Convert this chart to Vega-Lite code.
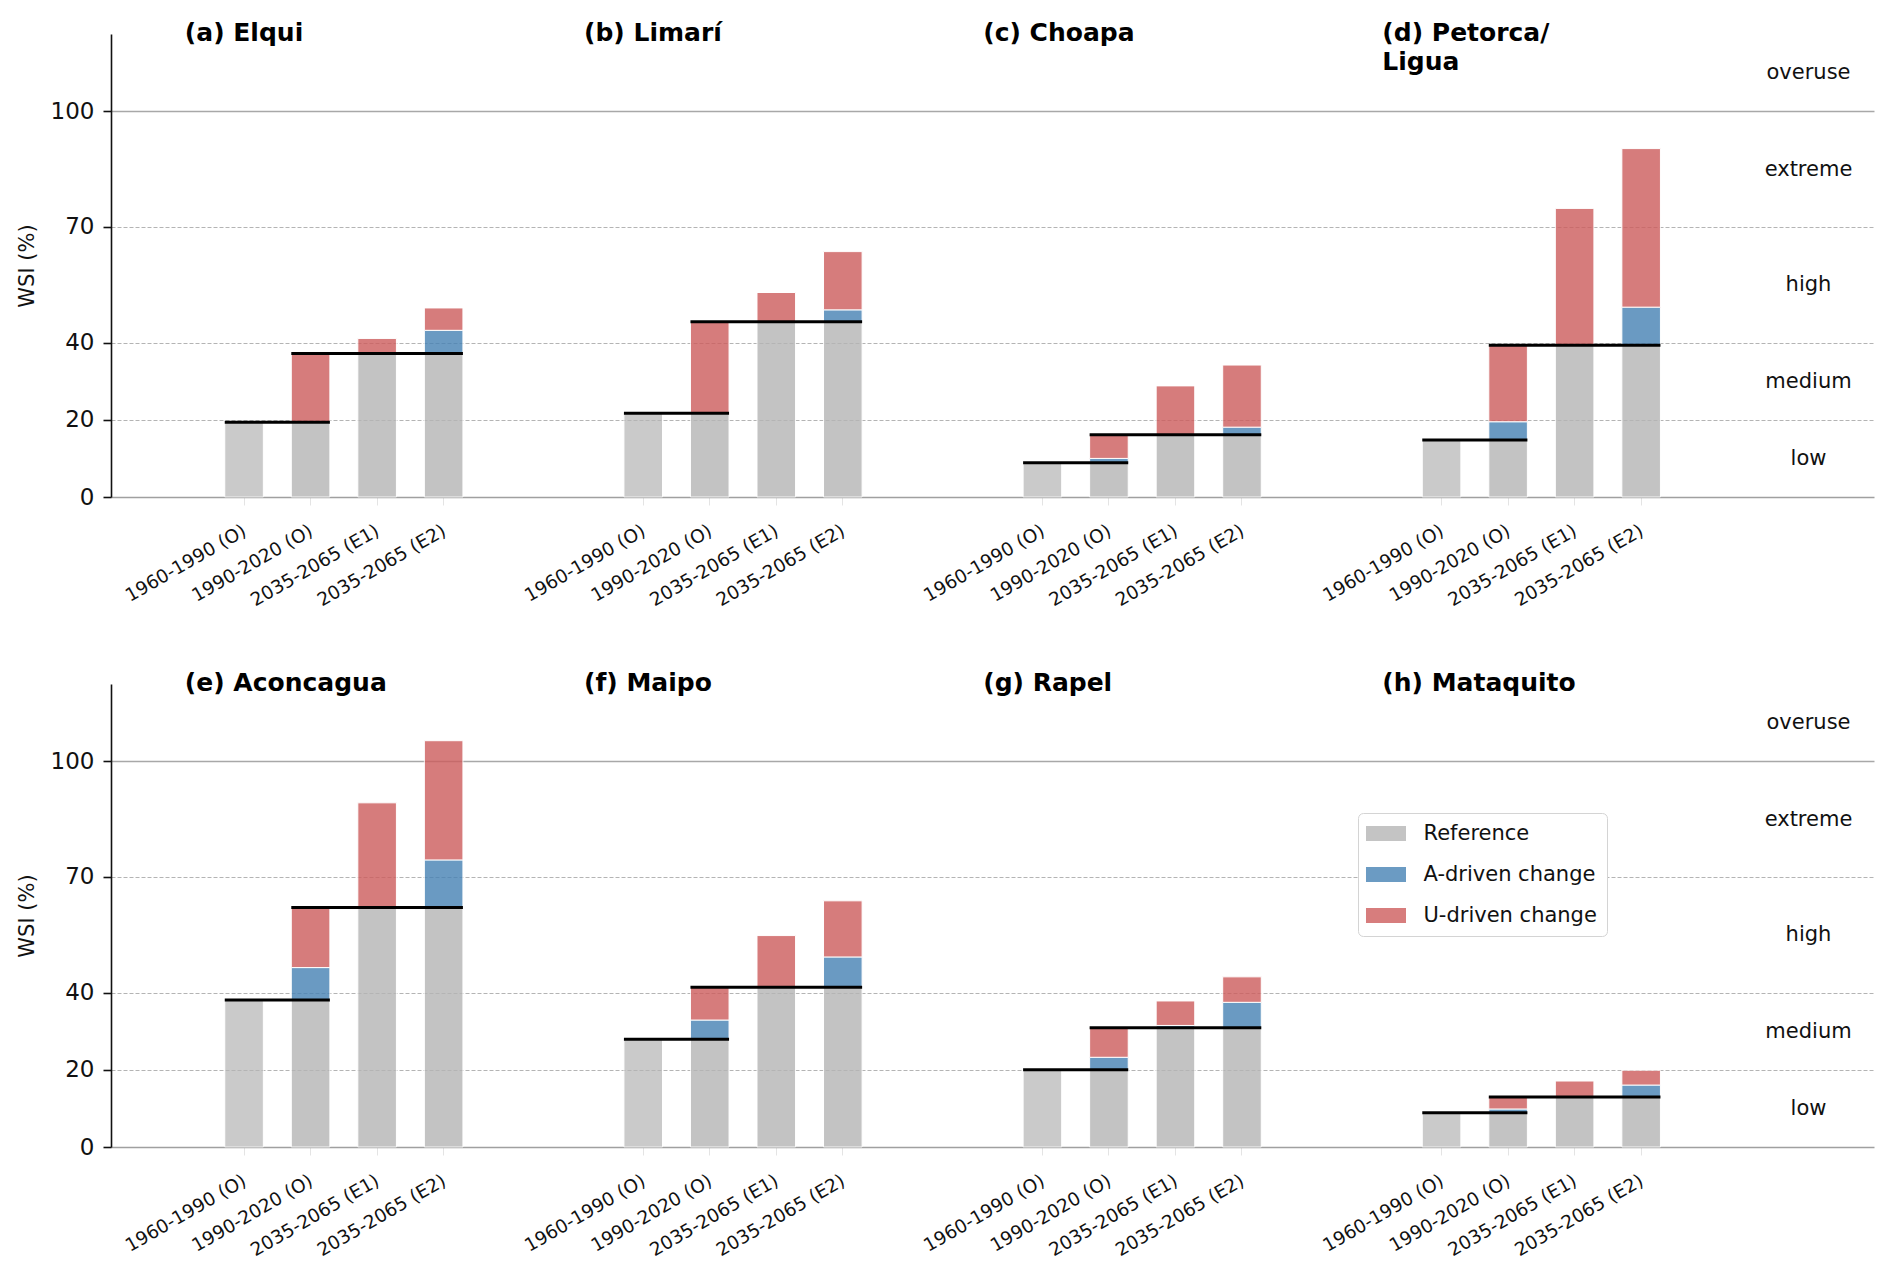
{
  "$schema": "https://vega.github.io/schema/vega-lite/v6.json",
  "background": "white",
  "padding": {"left": 16, "top": 20, "right": 5, "bottom": 5},
  "config": {"font": "DejaVu Sans", "view": {"stroke": null}},
  "datasets": {
    "bars": [
      {"basin": "Elqui", "period": "1960-1990 (O)", "component": "Reference", "value": 19.4},
      {"basin": "Elqui", "period": "1990-2020 (O)", "component": "Reference", "value": 19.4},
      {"basin": "Elqui", "period": "1990-2020 (O)", "component": "U-driven change", "value": 17.8},
      {"basin": "Elqui", "period": "2035-2065 (E1)", "component": "Reference", "value": 37.2},
      {"basin": "Elqui", "period": "2035-2065 (E1)", "component": "U-driven change", "value": 3.9},
      {"basin": "Elqui", "period": "2035-2065 (E2)", "component": "Reference", "value": 37.2},
      {"basin": "Elqui", "period": "2035-2065 (E2)", "component": "A-driven change", "value": 6.0},
      {"basin": "Elqui", "period": "2035-2065 (E2)", "component": "U-driven change", "value": 5.8},
      {"basin": "Limarí", "period": "1960-1990 (O)", "component": "Reference", "value": 21.7},
      {"basin": "Limarí", "period": "1990-2020 (O)", "component": "Reference", "value": 21.7},
      {"basin": "Limarí", "period": "1990-2020 (O)", "component": "U-driven change", "value": 23.7},
      {"basin": "Limarí", "period": "2035-2065 (E1)", "component": "Reference", "value": 45.4},
      {"basin": "Limarí", "period": "2035-2065 (E1)", "component": "U-driven change", "value": 7.6},
      {"basin": "Limarí", "period": "2035-2065 (E2)", "component": "Reference", "value": 45.4},
      {"basin": "Limarí", "period": "2035-2065 (E2)", "component": "A-driven change", "value": 3.1},
      {"basin": "Limarí", "period": "2035-2065 (E2)", "component": "U-driven change", "value": 15.1},
      {"basin": "Choapa", "period": "1960-1990 (O)", "component": "Reference", "value": 8.9},
      {"basin": "Choapa", "period": "1990-2020 (O)", "component": "Reference", "value": 8.9},
      {"basin": "Choapa", "period": "1990-2020 (O)", "component": "A-driven change", "value": 1.1},
      {"basin": "Choapa", "period": "1990-2020 (O)", "component": "U-driven change", "value": 6.15},
      {"basin": "Choapa", "period": "2035-2065 (E1)", "component": "Reference", "value": 16.15},
      {"basin": "Choapa", "period": "2035-2065 (E1)", "component": "U-driven change", "value": 12.65},
      {"basin": "Choapa", "period": "2035-2065 (E2)", "component": "Reference", "value": 16.15},
      {"basin": "Choapa", "period": "2035-2065 (E2)", "component": "A-driven change", "value": 1.95},
      {"basin": "Choapa", "period": "2035-2065 (E2)", "component": "U-driven change", "value": 16.1},
      {"basin": "Petorca/Ligua", "period": "1960-1990 (O)", "component": "Reference", "value": 14.8},
      {"basin": "Petorca/Ligua", "period": "1990-2020 (O)", "component": "Reference", "value": 14.8},
      {"basin": "Petorca/Ligua", "period": "1990-2020 (O)", "component": "A-driven change", "value": 4.7},
      {"basin": "Petorca/Ligua", "period": "1990-2020 (O)", "component": "U-driven change", "value": 19.8},
      {"basin": "Petorca/Ligua", "period": "2035-2065 (E1)", "component": "Reference", "value": 39.3},
      {"basin": "Petorca/Ligua", "period": "2035-2065 (E1)", "component": "U-driven change", "value": 35.5},
      {"basin": "Petorca/Ligua", "period": "2035-2065 (E2)", "component": "Reference", "value": 39.3},
      {"basin": "Petorca/Ligua", "period": "2035-2065 (E2)", "component": "A-driven change", "value": 9.9},
      {"basin": "Petorca/Ligua", "period": "2035-2065 (E2)", "component": "U-driven change", "value": 41.1},
      {"basin": "Aconcagua", "period": "1960-1990 (O)", "component": "Reference", "value": 38.1},
      {"basin": "Aconcagua", "period": "1990-2020 (O)", "component": "Reference", "value": 38.1},
      {"basin": "Aconcagua", "period": "1990-2020 (O)", "component": "A-driven change", "value": 8.4},
      {"basin": "Aconcagua", "period": "1990-2020 (O)", "component": "U-driven change", "value": 15.55},
      {"basin": "Aconcagua", "period": "2035-2065 (E1)", "component": "Reference", "value": 62.05},
      {"basin": "Aconcagua", "period": "2035-2065 (E1)", "component": "U-driven change", "value": 27.15},
      {"basin": "Aconcagua", "period": "2035-2065 (E2)", "component": "Reference", "value": 62.05},
      {"basin": "Aconcagua", "period": "2035-2065 (E2)", "component": "A-driven change", "value": 12.35},
      {"basin": "Aconcagua", "period": "2035-2065 (E2)", "component": "U-driven change", "value": 30.9},
      {"basin": "Maipo", "period": "1960-1990 (O)", "component": "Reference", "value": 27.9},
      {"basin": "Maipo", "period": "1990-2020 (O)", "component": "Reference", "value": 27.9},
      {"basin": "Maipo", "period": "1990-2020 (O)", "component": "A-driven change", "value": 5.0},
      {"basin": "Maipo", "period": "1990-2020 (O)", "component": "U-driven change", "value": 8.5},
      {"basin": "Maipo", "period": "2035-2065 (E1)", "component": "Reference", "value": 41.4},
      {"basin": "Maipo", "period": "2035-2065 (E1)", "component": "U-driven change", "value": 13.4},
      {"basin": "Maipo", "period": "2035-2065 (E2)", "component": "Reference", "value": 41.4},
      {"basin": "Maipo", "period": "2035-2065 (E2)", "component": "A-driven change", "value": 7.85},
      {"basin": "Maipo", "period": "2035-2065 (E2)", "component": "U-driven change", "value": 14.55},
      {"basin": "Rapel", "period": "1960-1990 (O)", "component": "Reference", "value": 20.05},
      {"basin": "Rapel", "period": "1990-2020 (O)", "component": "Reference", "value": 20.05},
      {"basin": "Rapel", "period": "1990-2020 (O)", "component": "A-driven change", "value": 3.2},
      {"basin": "Rapel", "period": "1990-2020 (O)", "component": "U-driven change", "value": 7.65},
      {"basin": "Rapel", "period": "2035-2065 (E1)", "component": "Reference", "value": 30.9},
      {"basin": "Rapel", "period": "2035-2065 (E1)", "component": "A-driven change", "value": 0.6},
      {"basin": "Rapel", "period": "2035-2065 (E1)", "component": "U-driven change", "value": 6.35},
      {"basin": "Rapel", "period": "2035-2065 (E2)", "component": "Reference", "value": 30.9},
      {"basin": "Rapel", "period": "2035-2065 (E2)", "component": "A-driven change", "value": 6.6},
      {"basin": "Rapel", "period": "2035-2065 (E2)", "component": "U-driven change", "value": 6.6},
      {"basin": "Mataquito", "period": "1960-1990 (O)", "component": "Reference", "value": 8.9},
      {"basin": "Mataquito", "period": "1990-2020 (O)", "component": "Reference", "value": 8.9},
      {"basin": "Mataquito", "period": "1990-2020 (O)", "component": "A-driven change", "value": 0.95},
      {"basin": "Mataquito", "period": "1990-2020 (O)", "component": "U-driven change", "value": 3.1},
      {"basin": "Mataquito", "period": "2035-2065 (E1)", "component": "Reference", "value": 12.95},
      {"basin": "Mataquito", "period": "2035-2065 (E1)", "component": "U-driven change", "value": 4.15},
      {"basin": "Mataquito", "period": "2035-2065 (E2)", "component": "Reference", "value": 12.95},
      {"basin": "Mataquito", "period": "2035-2065 (E2)", "component": "A-driven change", "value": 3.1},
      {"basin": "Mataquito", "period": "2035-2065 (E2)", "component": "U-driven change", "value": 3.85}
    ],
    "lines": [
      {"basin": "Elqui", "from": "1960-1990 (O)", "to": "1990-2020 (O)", "value": 19.4},
      {"basin": "Elqui", "from": "1990-2020 (O)", "to": "2035-2065 (E2)", "value": 37.2},
      {"basin": "Limarí", "from": "1960-1990 (O)", "to": "1990-2020 (O)", "value": 21.7},
      {"basin": "Limarí", "from": "1990-2020 (O)", "to": "2035-2065 (E2)", "value": 45.4},
      {"basin": "Choapa", "from": "1960-1990 (O)", "to": "1990-2020 (O)", "value": 8.9},
      {"basin": "Choapa", "from": "1990-2020 (O)", "to": "2035-2065 (E2)", "value": 16.15},
      {"basin": "Petorca/Ligua", "from": "1960-1990 (O)", "to": "1990-2020 (O)", "value": 14.8},
      {"basin": "Petorca/Ligua", "from": "1990-2020 (O)", "to": "2035-2065 (E2)", "value": 39.3},
      {"basin": "Aconcagua", "from": "1960-1990 (O)", "to": "1990-2020 (O)", "value": 38.1},
      {"basin": "Aconcagua", "from": "1990-2020 (O)", "to": "2035-2065 (E2)", "value": 62.05},
      {"basin": "Maipo", "from": "1960-1990 (O)", "to": "1990-2020 (O)", "value": 27.9},
      {"basin": "Maipo", "from": "1990-2020 (O)", "to": "2035-2065 (E2)", "value": 41.4},
      {"basin": "Rapel", "from": "1960-1990 (O)", "to": "1990-2020 (O)", "value": 20.05},
      {"basin": "Rapel", "from": "1990-2020 (O)", "to": "2035-2065 (E2)", "value": 30.9},
      {"basin": "Mataquito", "from": "1960-1990 (O)", "to": "1990-2020 (O)", "value": 8.9},
      {"basin": "Mataquito", "from": "1990-2020 (O)", "to": "2035-2065 (E2)", "value": 12.95}
    ],
    "titles": [
      {"basin": "Elqui", "label": "(a) Elqui"},
      {"basin": "Limarí", "label": "(b) Limarí"},
      {"basin": "Choapa", "label": "(c) Choapa"},
      {"basin": "Petorca/Ligua", "label": "(d) Petorca/\nLigua"},
      {"basin": "Aconcagua", "label": "(e) Aconcagua"},
      {"basin": "Maipo", "label": "(f) Maipo"},
      {"basin": "Rapel", "label": "(g) Rapel"},
      {"basin": "Mataquito", "label": "(h) Mataquito"}
    ]
  },
  "spacing": 187,
  "bounds": "flush",
  "resolve": {
    "scale": {"x": "independent", "y": "independent", "color": "independent", "opacity": "independent"},
    "axis": {"x": "independent", "y": "independent"},
    "legend": {"color": "independent"}
  },
  "vconcat": [
    {
      "width": 1763,
      "height": 463,
      "resolve": {"axis": {"y": "independent"}},
      "layer": [
        {
          "data": {"name": "bars"},
          "transform": [
            {"filter": {"field": "basin", "oneOf": ["Elqui", "Limarí", "Choapa", "Petorca/Ligua"]}},
            {"calculate": "datum.basin + '|' + datum.period", "as": "key"},
            {"calculate": "indexof(['Reference','A-driven change','U-driven change'], datum.component)", "as": "ord"}
          ],
          "mark": {"type": "bar", "stroke": "white", "strokeWidth": 1},
          "encoding": {
            "x": {
              "field": "key", "type": "nominal", "title": null, "sort": null,
              "scale": {
                "domain": ["pre:Elqui", "Elqui|1960-1990 (O)", "Elqui|1990-2020 (O)", "Elqui|2035-2065 (E1)", "Elqui|2035-2065 (E2)", "mid1",
                           "pre:Limarí", "Limarí|1960-1990 (O)", "Limarí|1990-2020 (O)", "Limarí|2035-2065 (E1)", "Limarí|2035-2065 (E2)", "mid2",
                           "pre:Choapa", "Choapa|1960-1990 (O)", "Choapa|1990-2020 (O)", "Choapa|2035-2065 (E1)", "Choapa|2035-2065 (E2)", "mid3",
                           "pre:Petorca/Ligua", "Petorca/Ligua|1960-1990 (O)", "Petorca/Ligua|1990-2020 (O)", "Petorca/Ligua|2035-2065 (E1)", "Petorca/Ligua|2035-2065 (E2)", "end1", "end2"],
                "paddingInner": 0.42, "paddingOuter": 0.96, "align": 0.3698
              },
              "axis": {
                "values": ["Elqui|1960-1990 (O)", "Elqui|1990-2020 (O)", "Elqui|2035-2065 (E1)", "Elqui|2035-2065 (E2)",
                           "Limarí|1960-1990 (O)", "Limarí|1990-2020 (O)", "Limarí|2035-2065 (E1)", "Limarí|2035-2065 (E2)",
                           "Choapa|1960-1990 (O)", "Choapa|1990-2020 (O)", "Choapa|2035-2065 (E1)", "Choapa|2035-2065 (E2)",
                           "Petorca/Ligua|1960-1990 (O)", "Petorca/Ligua|1990-2020 (O)", "Petorca/Ligua|2035-2065 (E1)", "Petorca/Ligua|2035-2065 (E2)"],
                "labelExpr": "indexof(datum.label, '|') > 0 ? substring(datum.label, indexof(datum.label, '|') + 1) : ''",
                "labelAngle": -30, "labelAlign": "right", "labelBaseline": "top",
                "labelFontSize": 18.5, "labelColor": "#111", "labelPadding": 16, "labelOffset": -4,
                "domainColor": "#a0a0a0", "domainWidth": 1.6,
                "tickColor": "#e4e4e4", "tickSize": 8, "tickWidth": 1, "grid": false
              }
            },
            "y": {
              "field": "value", "type": "quantitative", "stack": "zero", "title": "WSI (%)",
              "scale": {"domain": [0, 120], "nice": false},
              "axis": {
                "values": [0, 20, 40, 70, 100],
                "labelFontSize": 23, "labelColor": "#111", "labelPadding": 9,
                "titleFontSize": 21, "titleFontWeight": "normal", "titleColor": "#111", "titlePadding": 13,
                "domainColor": "#111", "domainWidth": 1.6, "tickColor": "#111", "tickWidth": 1.6, "tickSize": 8,
                "grid": true,
                "gridColor": {"condition": {"test": "datum.value === 100", "value": "#a8a8a8"}, "value": "#b4b4b4"},
                "gridWidth": {"condition": {"test": "datum.value === 100", "value": 1.7}, "value": 1},
                "gridDash": {"condition": {"test": "datum.value === 100", "value": [1, 0]}, "value": [4, 2]},
                "gridOpacity": {"condition": {"test": "datum.value === 0", "value": 0}, "value": 1}
              }
            },
            "color": {
              "field": "component", "type": "nominal",
              "scale": {"domain": ["Reference", "A-driven change", "U-driven change"], "range": ["#b5b5b5", "#4682b4", "#cd5c5c"]},
              "legend": null
            },
            "order": {"field": "ord", "type": "quantitative"},
            "opacity": {"condition": {"test": "datum.period === '1960-1990 (O)'", "value": 0.7}, "value": 0.8}
          }
        },
        {
          "data": {"name": "lines"},
          "transform": [
            {"filter": {"field": "basin", "oneOf": ["Elqui", "Limarí", "Choapa", "Petorca/Ligua"]}},
            {"calculate": "datum.basin + '|' + datum.from", "as": "k1"},
            {"calculate": "datum.basin + '|' + datum.to", "as": "k2"}
          ],
          "mark": {"type": "rule", "color": "black", "strokeWidth": 3},
          "encoding": {
            "x": {
              "field": "k1", "type": "nominal", "bandPosition": 0, "title": null,
              "scale": {
                "domain": ["pre:Elqui", "Elqui|1960-1990 (O)", "Elqui|1990-2020 (O)", "Elqui|2035-2065 (E1)", "Elqui|2035-2065 (E2)", "mid1",
                           "pre:Limarí", "Limarí|1960-1990 (O)", "Limarí|1990-2020 (O)", "Limarí|2035-2065 (E1)", "Limarí|2035-2065 (E2)", "mid2",
                           "pre:Choapa", "Choapa|1960-1990 (O)", "Choapa|1990-2020 (O)", "Choapa|2035-2065 (E1)", "Choapa|2035-2065 (E2)", "mid3",
                           "pre:Petorca/Ligua", "Petorca/Ligua|1960-1990 (O)", "Petorca/Ligua|1990-2020 (O)", "Petorca/Ligua|2035-2065 (E1)", "Petorca/Ligua|2035-2065 (E2)", "end1", "end2"],
                "paddingInner": 0.42, "paddingOuter": 0.96, "align": 0.3698
              }
            },
            "x2": {"field": "k2", "bandPosition": 1},
            "y": {
              "field": "value", "type": "quantitative", "title": null,
              "scale": {"domain": [0, 120], "nice": false},
              "axis": {
                "orient": "right", "values": [10, 30, 55, 85, 110],
                "labelExpr": "datum.value == 110 ? 'overuse' : datum.value == 85 ? 'extreme' : datum.value == 55 ? 'high' : datum.value == 30 ? 'medium' : 'low'",
                "domain": false, "ticks": false, "grid": false,
                "labelPadding": -66, "labelAlign": "center", "labelFontSize": 21, "labelColor": "#111",
                "labelOverlap": false, "labelBound": false
              }
            }
          }
        },
        {
          "data": {"name": "titles"},
          "transform": [
            {"filter": {"field": "basin", "oneOf": ["Elqui", "Limarí", "Choapa", "Petorca/Ligua"]}},
            {"calculate": "'pre:' + datum.basin", "as": "key"}
          ],
          "mark": {"type": "text", "align": "left", "baseline": "alphabetic", "fontSize": 25, "fontWeight": "bold", "color": "black", "lineBreak": "\n", "lineHeight": 29},
          "encoding": {
            "x": {
              "field": "key", "type": "nominal", "bandPosition": 0.69, "title": null,
              "scale": {
                "domain": ["pre:Elqui", "Elqui|1960-1990 (O)", "Elqui|1990-2020 (O)", "Elqui|2035-2065 (E1)", "Elqui|2035-2065 (E2)", "mid1",
                           "pre:Limarí", "Limarí|1960-1990 (O)", "Limarí|1990-2020 (O)", "Limarí|2035-2065 (E1)", "Limarí|2035-2065 (E2)", "mid2",
                           "pre:Choapa", "Choapa|1960-1990 (O)", "Choapa|1990-2020 (O)", "Choapa|2035-2065 (E1)", "Choapa|2035-2065 (E2)", "mid3",
                           "pre:Petorca/Ligua", "Petorca/Ligua|1960-1990 (O)", "Petorca/Ligua|1990-2020 (O)", "Petorca/Ligua|2035-2065 (E1)", "Petorca/Ligua|2035-2065 (E2)", "end1", "end2"],
                "paddingInner": 0.42, "paddingOuter": 0.96, "align": 0.3698
              }
            },
            "y": {"datum": 118.2, "type": "quantitative", "axis": null, "scale": {"domain": [0, 120], "nice": false}},
            "text": {"field": "label"}
          }
        }
      ]
    },
    {
      "width": 1763,
      "height": 463,
      "resolve": {"axis": {"y": "independent"}},
      "layer": [
        {
          "data": {"name": "bars"},
          "transform": [
            {"filter": {"field": "basin", "oneOf": ["Aconcagua", "Maipo", "Rapel", "Mataquito"]}},
            {"calculate": "datum.basin + '|' + datum.period", "as": "key"},
            {"calculate": "indexof(['Reference','A-driven change','U-driven change'], datum.component)", "as": "ord"}
          ],
          "mark": {"type": "bar", "stroke": "white", "strokeWidth": 1},
          "encoding": {
            "x": {
              "field": "key", "type": "nominal", "title": null, "sort": null,
              "scale": {
                "domain": ["pre:Aconcagua", "Aconcagua|1960-1990 (O)", "Aconcagua|1990-2020 (O)", "Aconcagua|2035-2065 (E1)", "Aconcagua|2035-2065 (E2)", "mid1",
                           "pre:Maipo", "Maipo|1960-1990 (O)", "Maipo|1990-2020 (O)", "Maipo|2035-2065 (E1)", "Maipo|2035-2065 (E2)", "mid2",
                           "pre:Rapel", "Rapel|1960-1990 (O)", "Rapel|1990-2020 (O)", "Rapel|2035-2065 (E1)", "Rapel|2035-2065 (E2)", "mid3",
                           "pre:Mataquito", "Mataquito|1960-1990 (O)", "Mataquito|1990-2020 (O)", "Mataquito|2035-2065 (E1)", "Mataquito|2035-2065 (E2)", "end1", "end2"],
                "paddingInner": 0.42, "paddingOuter": 0.96, "align": 0.3698
              },
              "axis": {
                "values": ["Aconcagua|1960-1990 (O)", "Aconcagua|1990-2020 (O)", "Aconcagua|2035-2065 (E1)", "Aconcagua|2035-2065 (E2)",
                           "Maipo|1960-1990 (O)", "Maipo|1990-2020 (O)", "Maipo|2035-2065 (E1)", "Maipo|2035-2065 (E2)",
                           "Rapel|1960-1990 (O)", "Rapel|1990-2020 (O)", "Rapel|2035-2065 (E1)", "Rapel|2035-2065 (E2)",
                           "Mataquito|1960-1990 (O)", "Mataquito|1990-2020 (O)", "Mataquito|2035-2065 (E1)", "Mataquito|2035-2065 (E2)"],
                "labelExpr": "indexof(datum.label, '|') > 0 ? substring(datum.label, indexof(datum.label, '|') + 1) : ''",
                "labelAngle": -30, "labelAlign": "right", "labelBaseline": "top",
                "labelFontSize": 18.5, "labelColor": "#111", "labelPadding": 16, "labelOffset": -4,
                "domainColor": "#a0a0a0", "domainWidth": 1.6,
                "tickColor": "#e4e4e4", "tickSize": 8, "tickWidth": 1, "grid": false
              }
            },
            "y": {
              "field": "value", "type": "quantitative", "stack": "zero", "title": "WSI (%)",
              "scale": {"domain": [0, 120], "nice": false},
              "axis": {
                "values": [0, 20, 40, 70, 100],
                "labelFontSize": 23, "labelColor": "#111", "labelPadding": 9,
                "titleFontSize": 21, "titleFontWeight": "normal", "titleColor": "#111", "titlePadding": 13,
                "domainColor": "#111", "domainWidth": 1.6, "tickColor": "#111", "tickWidth": 1.6, "tickSize": 8,
                "grid": true,
                "gridColor": {"condition": {"test": "datum.value === 100", "value": "#a8a8a8"}, "value": "#b4b4b4"},
                "gridWidth": {"condition": {"test": "datum.value === 100", "value": 1.7}, "value": 1},
                "gridDash": {"condition": {"test": "datum.value === 100", "value": [1, 0]}, "value": [4, 2]},
                "gridOpacity": {"condition": {"test": "datum.value === 0", "value": 0}, "value": 1}
              }
            },
            "color": {
              "field": "component", "type": "nominal",
              "scale": {"domain": ["Reference", "A-driven change", "U-driven change"], "range": ["#b5b5b5", "#4682b4", "#cd5c5c"]},
              "legend": {
                "title": null, "orient": "none", "legendX": 1247, "legendY": 129,
                "symbolType": "M-2.667,-1H2.667V1H-2.667Z", "symbolSize": 225, "symbolOpacity": 0.8, "symbolStrokeWidth": 0,
                "symbolOffset": 7.5,
                "labelFontSize": 21, "labelColor": "#111", "labelOffset": 27, "labelLimit": 400, "rowPadding": 19,
                "padding": 10, "strokeColor": "#d4d4d4", "fillColor": "white", "cornerRadius": 5
              }
            },
            "order": {"field": "ord", "type": "quantitative"},
            "opacity": {"condition": {"test": "datum.period === '1960-1990 (O)'", "value": 0.7}, "value": 0.8}
          }
        },
        {
          "data": {"name": "lines"},
          "transform": [
            {"filter": {"field": "basin", "oneOf": ["Aconcagua", "Maipo", "Rapel", "Mataquito"]}},
            {"calculate": "datum.basin + '|' + datum.from", "as": "k1"},
            {"calculate": "datum.basin + '|' + datum.to", "as": "k2"}
          ],
          "mark": {"type": "rule", "color": "black", "strokeWidth": 3},
          "encoding": {
            "x": {
              "field": "k1", "type": "nominal", "bandPosition": 0, "title": null,
              "scale": {
                "domain": ["pre:Aconcagua", "Aconcagua|1960-1990 (O)", "Aconcagua|1990-2020 (O)", "Aconcagua|2035-2065 (E1)", "Aconcagua|2035-2065 (E2)", "mid1",
                           "pre:Maipo", "Maipo|1960-1990 (O)", "Maipo|1990-2020 (O)", "Maipo|2035-2065 (E1)", "Maipo|2035-2065 (E2)", "mid2",
                           "pre:Rapel", "Rapel|1960-1990 (O)", "Rapel|1990-2020 (O)", "Rapel|2035-2065 (E1)", "Rapel|2035-2065 (E2)", "mid3",
                           "pre:Mataquito", "Mataquito|1960-1990 (O)", "Mataquito|1990-2020 (O)", "Mataquito|2035-2065 (E1)", "Mataquito|2035-2065 (E2)", "end1", "end2"],
                "paddingInner": 0.42, "paddingOuter": 0.96, "align": 0.3698
              }
            },
            "x2": {"field": "k2", "bandPosition": 1},
            "y": {
              "field": "value", "type": "quantitative", "title": null,
              "scale": {"domain": [0, 120], "nice": false},
              "axis": {
                "orient": "right", "values": [10, 30, 55, 85, 110],
                "labelExpr": "datum.value == 110 ? 'overuse' : datum.value == 85 ? 'extreme' : datum.value == 55 ? 'high' : datum.value == 30 ? 'medium' : 'low'",
                "domain": false, "ticks": false, "grid": false,
                "labelPadding": -66, "labelAlign": "center", "labelFontSize": 21, "labelColor": "#111",
                "labelOverlap": false, "labelBound": false
              }
            }
          }
        },
        {
          "data": {"name": "titles"},
          "transform": [
            {"filter": {"field": "basin", "oneOf": ["Aconcagua", "Maipo", "Rapel", "Mataquito"]}},
            {"calculate": "'pre:' + datum.basin", "as": "key"}
          ],
          "mark": {"type": "text", "align": "left", "baseline": "alphabetic", "fontSize": 25, "fontWeight": "bold", "color": "black", "lineBreak": "\n", "lineHeight": 29},
          "encoding": {
            "x": {
              "field": "key", "type": "nominal", "bandPosition": 0.69, "title": null,
              "scale": {
                "domain": ["pre:Aconcagua", "Aconcagua|1960-1990 (O)", "Aconcagua|1990-2020 (O)", "Aconcagua|2035-2065 (E1)", "Aconcagua|2035-2065 (E2)", "mid1",
                           "pre:Maipo", "Maipo|1960-1990 (O)", "Maipo|1990-2020 (O)", "Maipo|2035-2065 (E1)", "Maipo|2035-2065 (E2)", "mid2",
                           "pre:Rapel", "Rapel|1960-1990 (O)", "Rapel|1990-2020 (O)", "Rapel|2035-2065 (E1)", "Rapel|2035-2065 (E2)", "mid3",
                           "pre:Mataquito", "Mataquito|1960-1990 (O)", "Mataquito|1990-2020 (O)", "Mataquito|2035-2065 (E1)", "Mataquito|2035-2065 (E2)", "end1", "end2"],
                "paddingInner": 0.42, "paddingOuter": 0.96, "align": 0.3698
              }
            },
            "y": {"datum": 118.2, "type": "quantitative", "axis": null, "scale": {"domain": [0, 120], "nice": false}},
            "text": {"field": "label"}
          }
        }
      ]
    }
  ]
}
